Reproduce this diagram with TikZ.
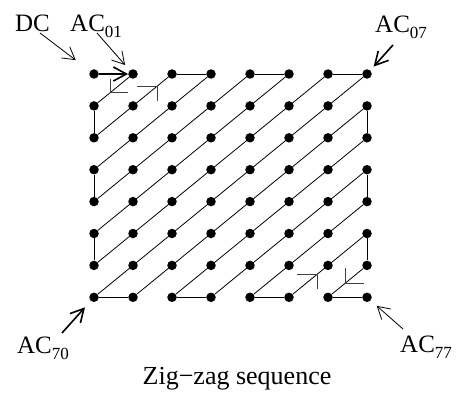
\documentclass[tikz,border=0pt]{standalone}
\usepackage{fontspec}
\setmainfont{Liberation Serif}
\usetikzlibrary{arrows.meta,calc}
\newcommand\lowidx[1]{\raisebox{-6pt}{\fontsize{17}{17}\selectfont #1}}

\begin{document}
\begin{tikzpicture}[x=1pt, y=1pt,
  dot/.style={circle, fill=black, inner sep=0pt, minimum size=9.5pt},
  seg/.style={draw=black, line width=0.8pt},
  arr/.style={-{Straight Barb[length=12pt,width=14pt]}, line width=0.8pt},
  bigarr/.style={-{Straight Barb[length=13pt,width=14pt]}, line width=1.6pt},
  lbl/.style={anchor=base west, inner sep=0pt, font=\fontsize{25}{30}\selectfont},
  dirtick/.style={draw=black!75, line width=0.7pt}]
\useasboundingbox (0,0) rectangle (456,392);
% 8x8 grid of coefficients
\foreach \r in {0,...,7}
  \foreach \c in {0,...,7}
    \node[dot] (d\r\c) at ({94+39*\c},{318-31.9*\r}) {};
% diagonals of the scan
\foreach \s in {1,...,13}{
  \pgfmathtruncatemacro\ra{max(0,\s-7)}
  \pgfmathtruncatemacro\rb{min(\s,7)}
  \pgfmathtruncatemacro\ca{\s-\ra}
  \pgfmathtruncatemacro\cb{\s-\rb}
  \draw[seg] (d\ra\ca) -- (d\rb\cb);
}
% steps between diagonals
\foreach \a/\b in {10/20, 02/03, 30/40, 04/05, 50/60, 06/07, 70/71,
                   17/27, 72/73, 37/47, 74/75, 57/67, 76/77}
  \draw[seg] (d\a) -- (d\b);
\draw[bigarr] (d00) -- (d01);
% direction ticks
\coordinate (m1) at ($(d01)!0.59!(d10)$);
\coordinate (m2) at ($(d11)!0.62!(d02)$);
\coordinate (m3) at ($(d75)!0.73!(d66)$);
\coordinate (m4) at ($(d67)!0.55!(d76)$);
\draw[dirtick] ([yshift=14pt]m1) -- (m1) -- ([xshift=18.5pt]m1);
\draw[dirtick] ([xshift=-20.5pt]m2) -- (m2) -- ([yshift=-15pt]m2);
\draw[dirtick] ([xshift=-20.5pt]m3) -- (m3) -- ([yshift=-15pt]m3);
\draw[dirtick] ([yshift=14.5pt]m4) -- (m4) -- ([xshift=18.5pt]m4);
% labels
\node[lbl] (dc) at (15,360.3) {DC};
\node[lbl] (ac01) at (70,360.3) {AC\lowidx{01}};
\node[lbl] (ac07) at (375,359.5) {AC\lowidx{07}};
\node[lbl] (ac70) at (17,39) {AC\lowidx{70}};
\node[lbl] (ac77) at (400,40) {AC\lowidx{77}};
\node[anchor=base, inner sep=0pt, font=\fontsize{26}{30}\selectfont] (cap) at (237,7.5) {Zig−zag sequence};
\coordinate (tdc) at (40,359);
\coordinate (t01) at (97,359);
\coordinate (t07) at (393,347);
\coordinate (t70) at (62,59);
\coordinate (t77) at (403,63);
\draw[arr, shorten >=18pt] (tdc) -- (d00);
\draw[arr, shorten >=7pt] (t01) -- (d01);
\draw[bigarr, shorten >=5pt] (t07) -- (d07);
\draw[bigarr, shorten >=8.5pt] (t70) -- (d70);
\draw[arr, shorten >=8pt] (t77) -- (d77);
\end{tikzpicture}
\end{document}
